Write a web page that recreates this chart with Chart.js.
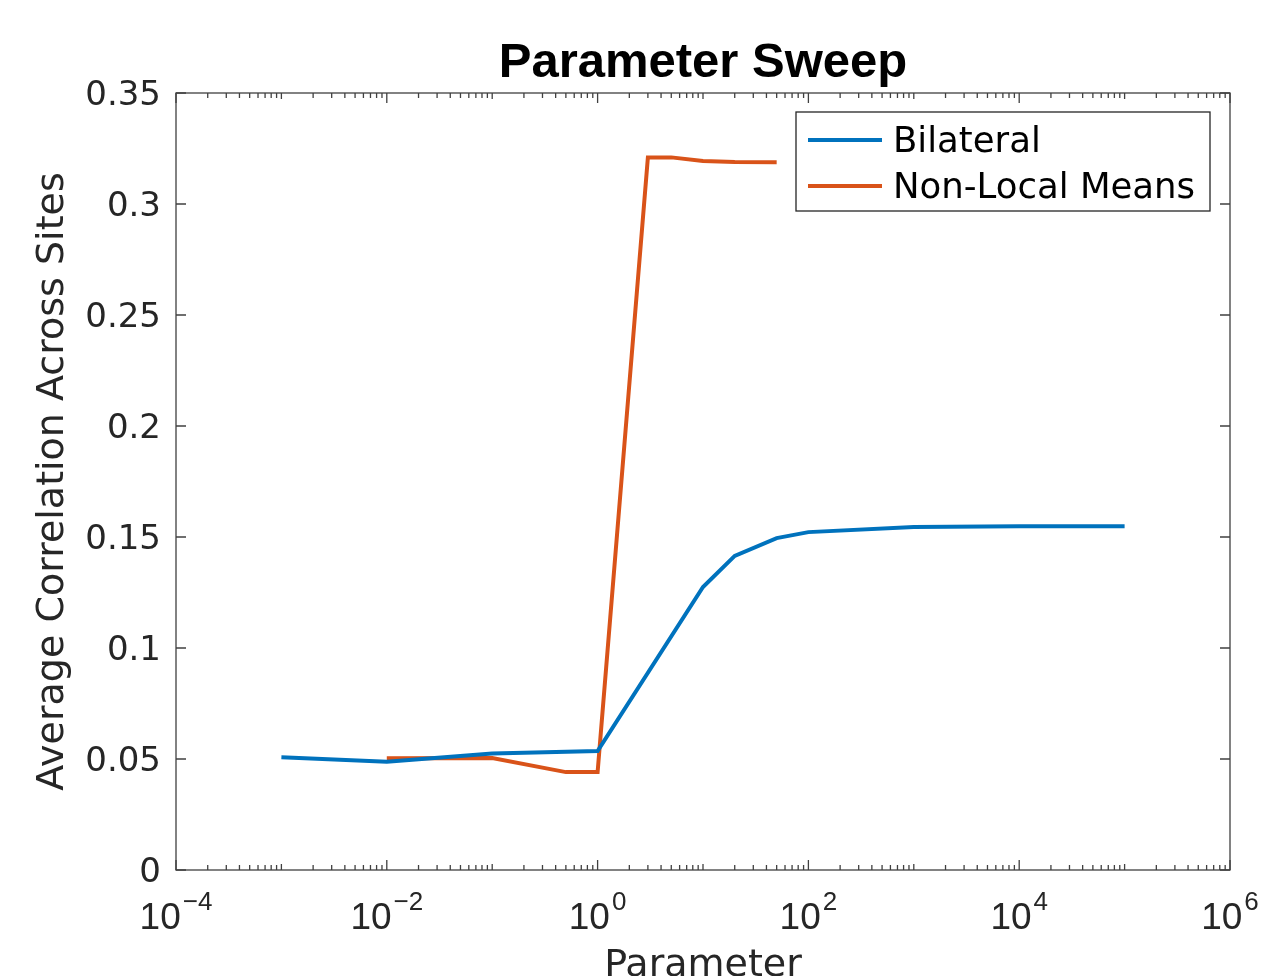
<!DOCTYPE html>
<html>
<head>
<meta charset="utf-8">
<script src="https://cdn.jsdelivr.net/npm/chart.js@4.4.1/dist/chart.umd.min.js"></script>
<style>
html,body{margin:0;padding:0;background:#fff;}
#wrap{width:1263px;height:976px;}
</style>
</head>
<body>
<div id="wrap"><canvas id="grafica" width="1263" height="976"></canvas></div>
<script>
// datos
const bilateralX=[0.001,0.01,0.1,1,10,20,50,100,1000,10000,100000];
const bilateralY=[0.0508,0.0488,0.0525,0.0536,0.1275,0.1415,0.1495,0.1522,0.1545,0.1548,0.1548];
const nlmX=[0.01,0.1,0.5,1,3,5,10,20,50];
const nlmY=[0.0503,0.0504,0.0441,0.0441,0.321,0.321,0.3194,0.3189,0.3188];
const yTicks=[0,0.05,0.1,0.15,0.2,0.25,0.3,0.35];
const xDecadas=[-4,-2,0,2,4,6];
const titulo="Parameter Sweep";
const etiquetaX="Parameter";
const etiquetaY="Average Correlation Across Sites";

const ejeColor="#404040";
const texto="#262626";

// marco, ticks hacia dentro, etiquetas 10^n, titulo y leyenda estilo matlab
const marco={
    id:"marco",
    afterDraw(chart){
        const {ctx,chartArea:a,scales:{x,y}}=chart;
        ctx.save();
        ctx.strokeStyle=ejeColor;
        ctx.lineWidth=1.3;
        ctx.strokeRect(a.left,a.top,a.right-a.left,a.bottom-a.top);
        ctx.beginPath();
        yTicks.forEach(v=>{
            const py=y.getPixelForValue(v);
            ctx.moveTo(a.left,py);ctx.lineTo(a.left+10,py);
            ctx.moveTo(a.right,py);ctx.lineTo(a.right-10,py);
        });
        for(let d=-4;d<=6;d++){
            const px=x.getPixelForValue(Math.pow(10,d));
            const l=xDecadas.includes(d)?10:6;
            ctx.moveTo(px,a.bottom);ctx.lineTo(px,a.bottom-l);
            ctx.moveTo(px,a.top);ctx.lineTo(px,a.top+l);
            if(d<6){
                for(let k=2;k<=9;k++){
                    const pm=x.getPixelForValue(k*Math.pow(10,d));
                    ctx.moveTo(pm,a.bottom);ctx.lineTo(pm,a.bottom-5);
                    ctx.moveTo(pm,a.top);ctx.lineTo(pm,a.top+5);
                }
            }
        }
        ctx.stroke();
        // etiquetas del eje x con exponente
        ctx.fillStyle=texto;
        ctx.textBaseline="alphabetic";
        ctx.textAlign="left";
        xDecadas.forEach(e=>{
            const px=x.getPixelForValue(Math.pow(10,e));
            const exp=String(e).replace("-","\u2212");
            ctx.font="37px 'Liberation Sans'";
            const w1=ctx.measureText("10").width;
            ctx.font="26px 'Liberation Sans'";
            const w2=ctx.measureText(exp).width;
            const x0=px-(w1+w2+2)/2;
            ctx.font="37px 'Liberation Sans'";
            ctx.fillText("10",x0,929);
            ctx.font="26px 'Liberation Sans'";
            ctx.fillText(exp,x0+w1+2,910);
        });
        // titulo
        ctx.fillStyle="#000";
        ctx.font="bold 49px 'Liberation Sans'";
        ctx.textAlign="center";
        ctx.fillText(titulo,(a.left+a.right)/2,77);
        // leyenda
        const lx=796,ly=112,lw=414,lh=99;
        ctx.fillStyle="#fff";
        ctx.fillRect(lx,ly,lw,lh);
        ctx.strokeStyle="#262626";
        ctx.lineWidth=1.3;
        ctx.strokeRect(lx,ly,lw,lh);
        ctx.font="35.5px 'DejaVu Sans'";
        ctx.textAlign="left";
        ctx.textBaseline="middle";
        chart.data.datasets.forEach((ds,i)=>{
            const cy=ly+28+i*46;
            ctx.strokeStyle=ds.borderColor;
            ctx.lineWidth=4;
            ctx.beginPath();ctx.moveTo(808,cy);ctx.lineTo(882,cy);ctx.stroke();
            ctx.fillStyle="#000";
            ctx.fillText(ds.label,893,cy+3);
        });
        ctx.restore();
    }
};

new Chart(document.getElementById("grafica"),{
    type:"line",
    data:{
        datasets:[
            {label:"Bilateral",data:bilateralX.map((v,i)=>({x:v,y:bilateralY[i]})),borderColor:"#0072BD",borderWidth:4,pointRadius:0,fill:false},
            {label:"Non-Local Means",data:nlmX.map((v,i)=>({x:v,y:nlmY[i]})),borderColor:"#D95319",borderWidth:4,pointRadius:0,fill:false}
        ]
    },
    plugins:[marco],
    options:{
        responsive:false,
        animation:false,
        layout:{padding:{top:93,right:33,left:0,bottom:0}},
        plugins:{legend:{display:false},title:{display:false},tooltip:{enabled:false}},
        scales:{
            x:{
                type:"logarithmic",
                min:1e-4,max:1e6,
                grid:{display:false,drawTicks:false},
                border:{display:false},
                afterFit:s=>{s.height=106;s.paddingLeft=0;s.paddingRight=0;},
                afterBuildTicks:s=>{s.ticks=xDecadas.map(e=>({value:Math.pow(10,e)}));},
                ticks:{display:false},
                title:{display:true,text:etiquetaX,color:texto,font:{size:38,family:"'DejaVu Sans'",lineHeight:0.5},padding:{top:0,bottom:0}}
            },
            y:{
                min:0,max:0.35,
                grid:{display:false,drawTicks:false},
                border:{display:false},
                afterFit:s=>{s.width=176;s.paddingTop=0;s.paddingBottom=0;},
                afterBuildTicks:s=>{s.ticks=yTicks.map(v=>({value:v}));},
                ticks:{
                    padding:15,color:texto,labelOffset:3,
                    font:{size:34,family:"'DejaVu Sans'"},
                    callback:v=>String(v)
                },
                title:{display:true,text:etiquetaY,color:texto,font:{size:38,family:"'DejaVu Sans'"},padding:{top:30,bottom:0}}
            }
        }
    }
});
</script>
</body>
</html>
